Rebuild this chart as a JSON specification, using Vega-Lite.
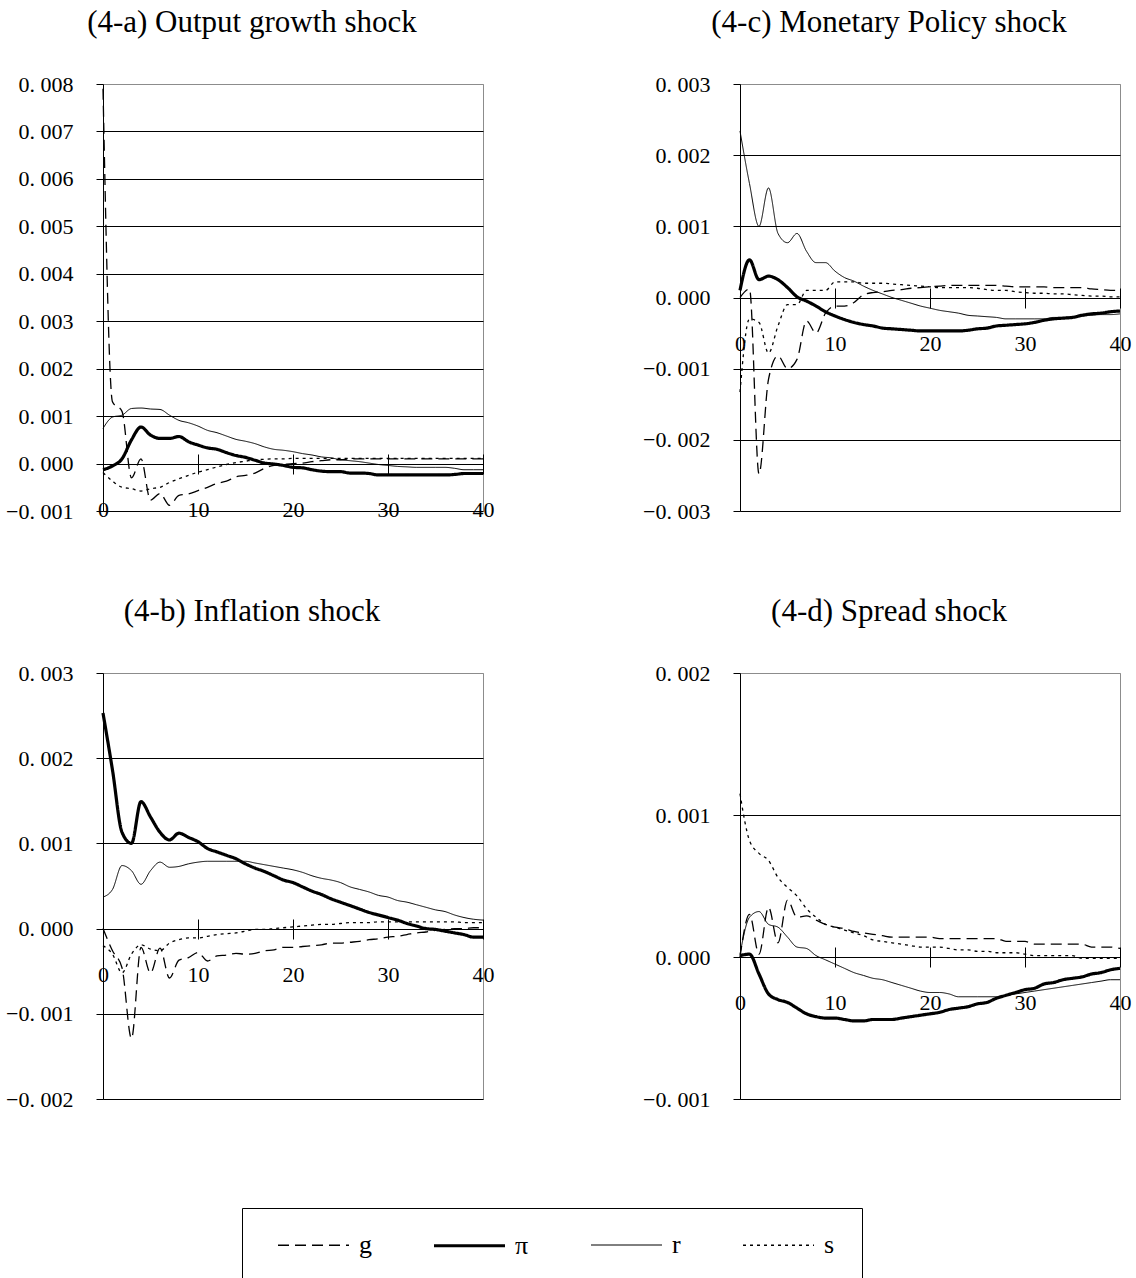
{
  "$schema": "https://vega.github.io/schema/vega-lite/v6.json",
  "background": "white",
  "padding": {"left": 5, "top": 6, "right": 0, "bottom": 0},
  "bounds": "flush",
  "columns": 2,
  "spacing": {"row": 162, "column": 257},
  "config": {
    "view": {"stroke": "#8c8c8c", "strokeWidth": 1},
    "axis": {
      "labelFont": "Liberation Sans Narrow",
      "labelFontSize": 22,
      "labelColor": "black",
      "tickColor": "black",
      "tickWidth": 1,
      "domainColor": "black",
      "domainWidth": 1,
      "gridOpacity": 1,
      "gridWidth": 1,
      "labelFlush": false,
      "labelOverlap": false
    },
    "axisY": {
      "grid": true,
      "tickSize": 7,
      "labelPadding": 23,
      "labelExpr": "replace(format(datum.value, '.3f'), '.', '. ')"
    },
    "axisX": {
      "grid": false,
      "domain": false,
      "tickSize": 20,
      "labelPadding": 25
    },
    "title": {
      "font": "Liberation Serif",
      "fontSize": 31,
      "fontWeight": "normal",
      "color": "black",
      "anchor": "middle",
      "frame": "group",
      "dx": -41,
      "offset": 34
    },
    "legend": {
      "orient": "none",
      "legendX": 139,
      "legendY": 1124,
      "direction": "horizontal",
      "columns": 4,
      "strokeColor": "black",
      "padding": 0,
      "symbolType": "stroke",
      "symbolSize": 5041,
      "symbolOffset": 34,
      "symbolStrokeColor": "black",
      "labelFont": "Liberation Serif",
      "labelFontSize": 26,
      "labelColor": "black",
      "labelOffset": 8,
      "columnPadding": 26,
      "titleOrient": "right",
      "titlePadding": 28,
      "titleFont": "Liberation Serif",
      "titleFontSize": 100
    },
    "line": {"color": "black", "interpolate": "monotone"}
  },
  "datasets": {
    "a": [
      {"t":0,"g":0.0079,"π":-0.00013,"r":0.00074,"s":-0.00019},
      {"t":1,"g":0.0013,"π":-0.00005,"r":0.00098,"s":-0.00037},
      {"t":2,"g":0.0011,"π":0.0001,"r":0.00102,"s":-0.0005},
      {"t":3,"g":-0.0003,"π":0.0005,"r":0.00116,"s":-0.00053},
      {"t":4,"g":0.0001,"π":0.00077,"r":0.00117,"s":-0.00058},
      {"t":5,"g":-0.00077,"π":0.0006,"r":0.00115,"s":-0.00053},
      {"t":6,"g":-0.00063,"π":0.00053,"r":0.00114,"s":-0.0005},
      {"t":7,"g":-0.00088,"π":0.00053,"r":0.00102,"s":-0.0004},
      {"t":8,"g":-0.00067,"π":0.00057,"r":0.00091,"s":-0.00032},
      {"t":9,"g":-0.00064,"π":0.00046,"r":0.00086,"s":-0.00025},
      {"t":10,"g":-0.00057,"π":0.00039,"r":0.00079,"s":-0.00018},
      {"t":11,"g":-0.0005,"π":0.00033,"r":0.0007,"s":-0.00013},
      {"t":12,"g":-0.00042,"π":0.0003,"r":0.00065,"s":-0.00007},
      {"t":13,"g":-0.00037,"π":0.00023,"r":0.00058,"s":-0.00002},
      {"t":14,"g":-0.00028,"π":0.00017,"r":0.00051,"s":0.00002},
      {"t":15,"g":-0.00025,"π":0.00013,"r":0.00047,"s":0.00005},
      {"t":16,"g":-0.0002,"π":0.00007,"r":0.00042,"s":0.00008},
      {"t":17,"g":-0.0001,"π":0.00001,"r":0.00035,"s":0.00009},
      {"t":18,"g":-0.00004,"π":-0.00001,"r":0.0003,"s":0.0001},
      {"t":19,"g":-0.00002,"π":-0.00004,"r":0.00028,"s":0.0001},
      {"t":20,"g":0,"π":-0.00008,"r":0.00025,"s":0.00011},
      {"t":21,"g":0.00001,"π":-0.00009,"r":0.00021,"s":0.00011},
      {"t":22,"g":0.00004,"π":-0.00013,"r":0.00018,"s":0.00011},
      {"t":23,"g":0.00006,"π":-0.00016,"r":0.00014,"s":0.00011},
      {"t":24,"g":0.00008,"π":-0.00017,"r":0.00012,"s":0.00011},
      {"t":25,"g":0.00008,"π":-0.00017,"r":0.00008,"s":0.00011},
      {"t":26,"g":0.0001,"π":-0.0002,"r":0.00006,"s":0.00011},
      {"t":27,"g":0.0001,"π":-0.0002,"r":0.00004,"s":0.00011},
      {"t":28,"g":0.0001,"π":-0.00021,"r":0.00001,"s":0.00011},
      {"t":29,"g":0.0001,"π":-0.00024,"r":-0.00002,"s":0.00011},
      {"t":30,"g":0.0001,"π":-0.00024,"r":-0.00004,"s":0.00011},
      {"t":31,"g":0.0001,"π":-0.00024,"r":-0.00006,"s":0.00011},
      {"t":32,"g":0.0001,"π":-0.00024,"r":-0.00007,"s":0.00011},
      {"t":33,"g":0.0001,"π":-0.00024,"r":-0.00008,"s":0.00011},
      {"t":34,"g":0.0001,"π":-0.00024,"r":-0.00008,"s":0.00011},
      {"t":35,"g":0.0001,"π":-0.00024,"r":-0.00008,"s":0.00011},
      {"t":36,"g":0.0001,"π":-0.00024,"r":-0.00008,"s":0.00011},
      {"t":37,"g":0.0001,"π":-0.00023,"r":-0.0001,"s":0.00011},
      {"t":38,"g":0.0001,"π":-0.00021,"r":-0.00013,"s":0.00011},
      {"t":39,"g":0.0001,"π":-0.00021,"r":-0.00013,"s":0.00011},
      {"t":40,"g":0.0001,"π":-0.00021,"r":-0.00013,"s":0.00011}
    ],
    "b": [
      {"t":0,"g":0,"π":0.00253,"r":0.00037,"s":-0.0002},
      {"t":1,"g":-0.00026,"π":0.00186,"r":0.00046,"s":-0.0003},
      {"t":2,"g":-0.00046,"π":0.00113,"r":0.00074,"s":-0.00052},
      {"t":3,"g":-0.00129,"π":0.001,"r":0.00068,"s":-0.0003},
      {"t":4,"g":-0.00022,"π":0.00149,"r":0.00052,"s":-0.00019},
      {"t":5,"g":-0.00052,"π":0.00131,"r":0.00068,"s":-0.00024},
      {"t":6,"g":-0.00023,"π":0.00113,"r":0.00078,"s":-0.00026},
      {"t":7,"g":-0.00058,"π":0.00104,"r":0.00072,"s":-0.00017},
      {"t":8,"g":-0.00037,"π":0.00112,"r":0.00073,"s":-0.00013},
      {"t":9,"g":-0.00034,"π":0.00107,"r":0.00076,"s":-0.00011},
      {"t":10,"g":-0.00028,"π":0.00102,"r":0.00078,"s":-0.00011},
      {"t":11,"g":-0.00038,"π":0.00094,"r":0.00079,"s":-0.00009},
      {"t":12,"g":-0.00032,"π":0.0009,"r":0.00079,"s":-0.00007},
      {"t":13,"g":-0.00031,"π":0.00086,"r":0.00079,"s":-0.00006},
      {"t":14,"g":-0.00029,"π":0.00082,"r":0.00079,"s":-0.00005},
      {"t":15,"g":-0.0003,"π":0.00076,"r":0.00079,"s":-0.00003},
      {"t":16,"g":-0.00029,"π":0.00071,"r":0.00077,"s":-0.00001},
      {"t":17,"g":-0.00026,"π":0.00067,"r":0.00075,"s":-0.00001},
      {"t":18,"g":-0.00025,"π":0.00062,"r":0.00073,"s":0},
      {"t":19,"g":-0.00022,"π":0.00057,"r":0.00071,"s":0.00001},
      {"t":20,"g":-0.00022,"π":0.00054,"r":0.00069,"s":0.00002},
      {"t":21,"g":-0.00021,"π":0.00049,"r":0.00066,"s":0.00003},
      {"t":22,"g":-0.0002,"π":0.00044,"r":0.00062,"s":0.00004},
      {"t":23,"g":-0.00019,"π":0.0004,"r":0.00059,"s":0.00005},
      {"t":24,"g":-0.00017,"π":0.00035,"r":0.00057,"s":0.00005},
      {"t":25,"g":-0.00017,"π":0.00031,"r":0.00054,"s":0.00006},
      {"t":26,"g":-0.00016,"π":0.00027,"r":0.00049,"s":0.00007},
      {"t":27,"g":-0.00015,"π":0.00023,"r":0.00046,"s":0.00007},
      {"t":28,"g":-0.00013,"π":0.00019,"r":0.00043,"s":0.00007},
      {"t":29,"g":-0.00012,"π":0.00016,"r":0.00039,"s":0.00008},
      {"t":30,"g":-0.0001,"π":0.00013,"r":0.00037,"s":0.00008},
      {"t":31,"g":-0.00009,"π":0.0001,"r":0.00033,"s":0.00008},
      {"t":32,"g":-0.00007,"π":0.00006,"r":0.00031,"s":0.00008},
      {"t":33,"g":-0.00005,"π":0.00003,"r":0.00028,"s":0.00008},
      {"t":34,"g":-0.00004,"π":0,"r":0.00025,"s":0.00008},
      {"t":35,"g":-0.00002,"π":-0.00001,"r":0.00022,"s":0.00008},
      {"t":36,"g":-0.00001,"π":-0.00003,"r":0.0002,"s":0.00008},
      {"t":37,"g":0,"π":-0.00005,"r":0.00016,"s":0.00008},
      {"t":38,"g":0,"π":-0.00007,"r":0.00013,"s":0.00007},
      {"t":39,"g":0.00001,"π":-0.0001,"r":0.00011,"s":0.00007},
      {"t":40,"g":0.00001,"π":-0.0001,"r":0.0001,"s":0.00007}
    ],
    "c": [
      {"t":0,"g":0,"π":0.0001,"r":0.00234,"s":-0.00133},
      {"t":1,"g":0.00012,"π":0.00053,"r":0.0016,"s":-0.0003},
      {"t":2,"g":-0.00248,"π":0.00025,"r":0.001,"s":-0.00035},
      {"t":3,"g":-0.00115,"π":0.0003,"r":0.00154,"s":-0.00078},
      {"t":4,"g":-0.00082,"π":0.00025,"r":0.0009,"s":-0.0004},
      {"t":5,"g":-0.001,"π":0.00014,"r":0.00077,"s":-0.0001},
      {"t":6,"g":-0.00087,"π":0.00001,"r":0.0009,"s":-0.0001},
      {"t":7,"g":-0.00033,"π":-0.00005,"r":0.00065,"s":0.0001},
      {"t":8,"g":-0.0005,"π":-0.00012,"r":0.00049,"s":0.0001},
      {"t":9,"g":-0.00022,"π":-0.0002,"r":0.00049,"s":0.0001},
      {"t":10,"g":-0.00012,"π":-0.00026,"r":0.00037,"s":0.00022},
      {"t":11,"g":-0.00012,"π":-0.00031,"r":0.00028,"s":0.00022},
      {"t":12,"g":-0.00007,"π":-0.00035,"r":0.00023,"s":0.00022},
      {"t":13,"g":0.00004,"π":-0.00038,"r":0.00016,"s":0.0002},
      {"t":14,"g":0.00007,"π":-0.0004,"r":0.0001,"s":0.0002},
      {"t":15,"g":0.00008,"π":-0.00043,"r":0.00005,"s":0.0002},
      {"t":16,"g":0.0001,"π":-0.00044,"r":0,"s":0.00019},
      {"t":17,"g":0.00011,"π":-0.00045,"r":-0.00004,"s":0.00018},
      {"t":18,"g":0.00013,"π":-0.00046,"r":-0.00008,"s":0.00017},
      {"t":19,"g":0.00014,"π":-0.00047,"r":-0.00012,"s":0.00016},
      {"t":20,"g":0.00015,"π":-0.00047,"r":-0.00015,"s":0.00015},
      {"t":21,"g":0.00016,"π":-0.00047,"r":-0.00018,"s":0.00014},
      {"t":22,"g":0.00017,"π":-0.00047,"r":-0.0002,"s":0.00014},
      {"t":23,"g":0.00017,"π":-0.00047,"r":-0.00022,"s":0.00014},
      {"t":24,"g":0.00017,"π":-0.00046,"r":-0.00025,"s":0.00014},
      {"t":25,"g":0.00017,"π":-0.00044,"r":-0.00026,"s":0.00013},
      {"t":26,"g":0.00017,"π":-0.00043,"r":-0.00027,"s":0.00011},
      {"t":27,"g":0.00017,"π":-0.0004,"r":-0.00028,"s":0.0001},
      {"t":28,"g":0.00016,"π":-0.00039,"r":-0.0003,"s":0.0001},
      {"t":29,"g":0.00015,"π":-0.00038,"r":-0.0003,"s":0.00008},
      {"t":30,"g":0.00015,"π":-0.00037,"r":-0.0003,"s":0.00007},
      {"t":31,"g":0.00015,"π":-0.00035,"r":-0.0003,"s":0.00006},
      {"t":32,"g":0.00015,"π":-0.00032,"r":-0.0003,"s":0.00006},
      {"t":33,"g":0.00014,"π":-0.0003,"r":-0.00028,"s":0.00005},
      {"t":34,"g":0.00014,"π":-0.00029,"r":-0.00028,"s":0.00005},
      {"t":35,"g":0.00014,"π":-0.00028,"r":-0.00027,"s":0.00004},
      {"t":36,"g":0.00014,"π":-0.00025,"r":-0.00026,"s":0.00003},
      {"t":37,"g":0.00012,"π":-0.00023,"r":-0.00025,"s":0.00002},
      {"t":38,"g":0.00011,"π":-0.00022,"r":-0.00024,"s":0.00002},
      {"t":39,"g":0.0001,"π":-0.0002,"r":-0.00024,"s":0.00001},
      {"t":40,"g":0.0001,"π":-0.00019,"r":-0.00023,"s":0.00001}
    ],
    "d": [
      {"t":0,"g":0,"π":0.00001,"r":0.00002,"s":0.00115},
      {"t":1,"g":0.0003,"π":0.00002,"r":0.00028,"s":0.00082},
      {"t":2,"g":0.00002,"π":-0.00012,"r":0.00032,"s":0.00073},
      {"t":3,"g":0.00035,"π":-0.00026,"r":0.00023,"s":0.00068},
      {"t":4,"g":0.0001,"π":-0.0003,"r":0.00021,"s":0.00056},
      {"t":5,"g":0.0004,"π":-0.00032,"r":0.00014,"s":0.00049},
      {"t":6,"g":0.00028,"π":-0.00036,"r":0.00007,"s":0.00043},
      {"t":7,"g":0.00029,"π":-0.0004,"r":0.00006,"s":0.00034},
      {"t":8,"g":0.00026,"π":-0.00042,"r":0.00001,"s":0.00028},
      {"t":9,"g":0.00023,"π":-0.00043,"r":-0.00002,"s":0.00023},
      {"t":10,"g":0.00021,"π":-0.00043,"r":-0.00005,"s":0.00021},
      {"t":11,"g":0.0002,"π":-0.00044,"r":-0.00008,"s":0.00019},
      {"t":12,"g":0.00018,"π":-0.00045,"r":-0.00011,"s":0.00017},
      {"t":13,"g":0.00017,"π":-0.00045,"r":-0.00013,"s":0.00015},
      {"t":14,"g":0.00016,"π":-0.00044,"r":-0.00015,"s":0.00012},
      {"t":15,"g":0.00015,"π":-0.00044,"r":-0.00016,"s":0.00011},
      {"t":16,"g":0.00014,"π":-0.00044,"r":-0.00018,"s":0.0001},
      {"t":17,"g":0.00014,"π":-0.00043,"r":-0.0002,"s":0.00009},
      {"t":18,"g":0.00014,"π":-0.00042,"r":-0.00022,"s":0.00008},
      {"t":19,"g":0.00014,"π":-0.00041,"r":-0.00024,"s":0.00007},
      {"t":20,"g":0.00014,"π":-0.0004,"r":-0.00025,"s":0.00007},
      {"t":21,"g":0.00013,"π":-0.00039,"r":-0.00025,"s":0.00007},
      {"t":22,"g":0.00013,"π":-0.00037,"r":-0.00026,"s":0.00006},
      {"t":23,"g":0.00013,"π":-0.00036,"r":-0.00028,"s":0.00005},
      {"t":24,"g":0.00013,"π":-0.00035,"r":-0.00028,"s":0.00005},
      {"t":25,"g":0.00013,"π":-0.00033,"r":-0.00028,"s":0.00004},
      {"t":26,"g":0.00013,"π":-0.00032,"r":-0.00028,"s":0.00004},
      {"t":27,"g":0.00013,"π":-0.00029,"r":-0.00028,"s":0.00003},
      {"t":28,"g":0.00011,"π":-0.00027,"r":-0.00027,"s":0.00003},
      {"t":29,"g":0.00011,"π":-0.00025,"r":-0.00026,"s":0.00003},
      {"t":30,"g":0.00011,"π":-0.00023,"r":-0.00025,"s":0.00002},
      {"t":31,"g":0.00009,"π":-0.00022,"r":-0.00024,"s":0.00001},
      {"t":32,"g":0.00009,"π":-0.00019,"r":-0.00023,"s":0.00001},
      {"t":33,"g":0.00009,"π":-0.00018,"r":-0.00022,"s":0.00001},
      {"t":34,"g":0.00009,"π":-0.00016,"r":-0.00021,"s":0.00001},
      {"t":35,"g":0.00009,"π":-0.00015,"r":-0.0002,"s":0.00001},
      {"t":36,"g":0.00009,"π":-0.00014,"r":-0.00019,"s":-0.00001},
      {"t":37,"g":0.00007,"π":-0.00012,"r":-0.00018,"s":-0.00001},
      {"t":38,"g":0.00007,"π":-0.00011,"r":-0.00017,"s":-0.00001},
      {"t":39,"g":0.00007,"π":-0.00009,"r":-0.00016,"s":-0.00001},
      {"t":40,"g":0.00006,"π":-0.00008,"r":-0.00016,"s":-0.00001}
    ]
  },
  "concat": [
    {
      "title": {"text": "(4-a) Output growth shock"},
      "width": 380,
      "height": 427,
      "data": {"name": "a"},
      "transform": [{"fold": ["g", "π", "r", "s"], "as": ["series", "value"]}],
      "mark": {"type": "line"},
      "encoding": {
        "x": {"field": "t", "type": "quantitative", "title": null,
              "scale": {"domain": [0, 40], "nice": false},
              "axis": {"values": [0, 10, 20, 30, 40], "offset": -57}},
        "y": {"field": "value", "type": "quantitative", "title": null,
              "scale": {"domain": [-0.001, 0.008], "nice": false, "zero": false},
              "axis": {"values": [-0.001, 0, 0.001, 0.002, 0.003, 0.004, 0.005, 0.006, 0.007, 0.008],
                       "gridColor": {"condition": {"test": "datum.value === 0.008", "value": "#8c8c8c"}, "value": "black"}}},
        "strokeDash": {"field": "series", "type": "nominal", "title": " ",
              "scale": {"type": "ordinal", "domain": ["g", "π", "r", "s"], "range": [[11, 6], [1, 0], [1, 0], [3, 4]]}},
        "strokeWidth": {"field": "series", "type": "nominal", "title": " ",
              "scale": {"type": "ordinal", "domain": ["g", "π", "r", "s"], "range": [1.3, 3.2, 1, 1.3]}}
      }
    },
    {
      "title": {"text": "(4-c) Monetary Policy shock"},
      "width": 380,
      "height": 427,
      "data": {"name": "c"},
      "transform": [{"fold": ["g", "π", "r", "s"], "as": ["series", "value"]}],
      "mark": {"type": "line"},
      "encoding": {
        "x": {"field": "t", "type": "quantitative", "title": null,
              "scale": {"domain": [0, 40], "nice": false},
              "axis": {"values": [0, 10, 20, 30, 40], "offset": -223}},
        "y": {"field": "value", "type": "quantitative", "title": null,
              "scale": {"domain": [-0.003, 0.003], "nice": false, "zero": false},
              "axis": {"values": [-0.003, -0.002, -0.001, 0, 0.001, 0.002, 0.003],
                       "gridColor": {"condition": {"test": "datum.value === 0.003", "value": "#8c8c8c"}, "value": "black"}}},
        "strokeDash": {"field": "series", "type": "nominal", "title": " ",
              "scale": {"type": "ordinal", "domain": ["g", "π", "r", "s"], "range": [[11, 6], [1, 0], [1, 0], [3, 4]]}},
        "strokeWidth": {"field": "series", "type": "nominal", "title": " ",
              "scale": {"type": "ordinal", "domain": ["g", "π", "r", "s"], "range": [1.3, 3.2, 1, 1.3]}}
      }
    },
    {
      "title": {"text": "(4-b) Inflation shock"},
      "width": 380,
      "height": 426,
      "data": {"name": "b"},
      "transform": [{"fold": ["g", "π", "r", "s"], "as": ["series", "value"]}],
      "mark": {"type": "line"},
      "encoding": {
        "x": {"field": "t", "type": "quantitative", "title": null,
              "scale": {"domain": [0, 40], "nice": false},
              "axis": {"values": [0, 10, 20, 30, 40], "offset": -180}},
        "y": {"field": "value", "type": "quantitative", "title": null,
              "scale": {"domain": [-0.002, 0.003], "nice": false, "zero": false},
              "axis": {"values": [-0.002, -0.001, 0, 0.001, 0.002, 0.003],
                       "gridColor": {"condition": {"test": "datum.value === 0.003", "value": "#8c8c8c"}, "value": "black"}}},
        "strokeDash": {"field": "series", "type": "nominal", "title": " ",
              "scale": {"type": "ordinal", "domain": ["g", "π", "r", "s"], "range": [[11, 6], [1, 0], [1, 0], [3, 4]]}},
        "strokeWidth": {"field": "series", "type": "nominal", "title": " ",
              "scale": {"type": "ordinal", "domain": ["g", "π", "r", "s"], "range": [1.3, 3.2, 1, 1.3]}}
      }
    },
    {
      "title": {"text": "(4-d) Spread shock"},
      "width": 380,
      "height": 426,
      "data": {"name": "d"},
      "transform": [{"fold": ["g", "π", "r", "s"], "as": ["series", "value"]}],
      "mark": {"type": "line"},
      "encoding": {
        "x": {"field": "t", "type": "quantitative", "title": null,
              "scale": {"domain": [0, 40], "nice": false},
              "axis": {"values": [0, 10, 20, 30, 40], "offset": -152}},
        "y": {"field": "value", "type": "quantitative", "title": null,
              "scale": {"domain": [-0.001, 0.002], "nice": false, "zero": false},
              "axis": {"values": [-0.001, 0, 0.001, 0.002],
                       "gridColor": {"condition": {"test": "datum.value === 0.002", "value": "#8c8c8c"}, "value": "black"}}},
        "strokeDash": {"field": "series", "type": "nominal", "title": " ",
              "scale": {"type": "ordinal", "domain": ["g", "π", "r", "s"], "range": [[11, 6], [1, 0], [1, 0], [3, 4]]}},
        "strokeWidth": {"field": "series", "type": "nominal", "title": " ",
              "scale": {"type": "ordinal", "domain": ["g", "π", "r", "s"], "range": [1.3, 3.2, 1, 1.3]}}
      }
    }
  ]
}
